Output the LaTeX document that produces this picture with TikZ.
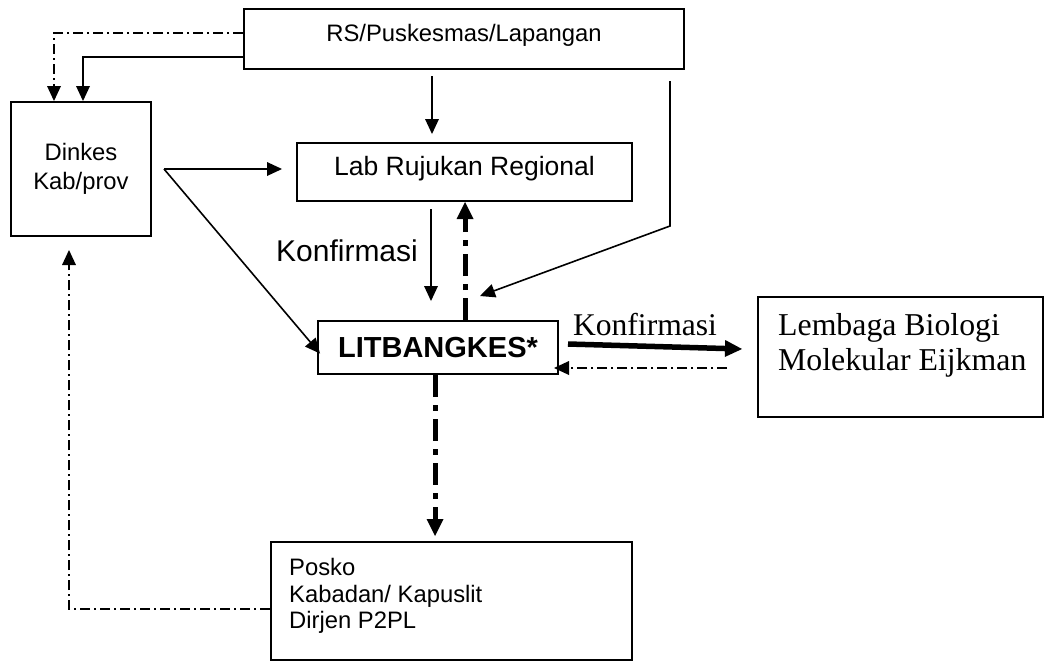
\documentclass[tikz,border=0pt]{standalone}
\usepackage{fontspec}
\setmainfont{Liberation Sans}
\newfontfamily\serifont{Liberation Serif}
\usetikzlibrary{arrows.meta,calc}
\begin{document}
\begin{tikzpicture}[x=1pt,y=-1pt,
  box/.style={draw, line width=2pt, rectangle, inner sep=0pt},
  ln/.style={line width=1.6pt},
  dd/.style={line width=1.4pt, dash pattern=on 10pt off 4pt on 2pt off 4pt},
  tdd/.style={line width=5pt, dash pattern=on 22pt off 8pt on 6pt off 8pt},
  tip/.style={-{Triangle[length=15pt,width=14pt,line width=0pt]}},
  bigtip/.style={-{Triangle[length=17pt,width=17pt,line width=0pt]}},
  sm/.style={font=\fontsize{23.8}{29}\selectfont},
  tx/.style={inner sep=0pt}
]
\useasboundingbox (0,0) rectangle (1047,662);

% boxes
\node[box, minimum width=440pt, minimum height=60pt] (rs) at (464,39) {};
\node[tx, sm] (rstext) at (464,35) {RS/Puskesmas/Lapangan};

\node[box, minimum width=140pt, minimum height=134pt, sm, align=center] (dinkes) at (81,169) {Dinkes\\Kab/prov};

\node[box, minimum width=335pt, minimum height=58pt] (lab) at (464.5,172) {};
\node[tx, font=\fontsize{26.5}{30}\selectfont] (labtext) at (464.5,169) {Lab Rujukan Regional};

\node[box, minimum width=240pt, minimum height=53pt, font=\fontsize{29}{32}\selectfont\bfseries] (lit) at (438,347.5) {LITBANGKES*};

\node[box, minimum width=285pt, minimum height=120pt] (lbm) at (900.5,357) {};
\node[tx, anchor=west, align=left, font=\serifont\fontsize{31.8}{35}\selectfont] (lbmtext) at (778,345.5) {Lembaga Biologi\\Molekular Eijkman};

\node[box, minimum width=361pt, minimum height=118pt] (posko) at (451.5,601) {};
\node[tx, anchor=west, align=left, font=\fontsize{23.8}{26.5}\selectfont] (poskotext) at (289,596) {Posko\\Kabadan/ Kapuslit\\Dirjen P2PL};

% labels
\node[tx, font=\fontsize{30}{34}\selectfont] (konf1) at (347,251) {Konfirmasi};
\node[tx, font=\serifont\fontsize{31.6}{35}\selectfont] (konf2) at (645,325) {Konfirmasi};

% connectors
\draw[dd,tip] ($(rs.west)+(0,-6)$) -| ($(dinkes.north)+(-27,0)$);
\draw[ln,tip] ($(rs.west)+(0,18)$) -| ($(dinkes.north)+(2,0)$);
\draw[ln,tip,shorten <=6pt,shorten >=8pt] ($(rs.south)+(-32,0)$) -- ($(lab.north)+(-32.5,0)$);
\coordinate (bend) at ($(rs.south)+(206,156)$);
\coordinate (rsend) at ($(lit.north)+(42,-24)$);
\draw[ln,tip] ($(rs.south)+(206,11)$) -- (bend) -- (rsend);
\coordinate (split) at ($(dinkes.east)+(12,0)$);
\draw[ln,tip] (split) -- ($(lab.west)+(-14,-3)$);
\draw[ln,tip] (split) -- ($(lit.west)+(3,6)$);
\draw[ln,tip,shorten <=7pt,shorten >=19pt] ($(lab.south)+(-33.5,0)$) -- ($(lit.north)+(-7,0)$);
\draw[tdd,bigtip] ($(lit.north)+(27,0)$) -- ($(lab.south)+(0.5,0)$);
\draw[tdd,bigtip,shorten >=5pt] ($(lit.south)+(-3,0)$) -- ($(posko.north)+(-16.5,0)$);
\draw[line width=5.5pt,bigtip] ($(lit.east)+(9,-3.5)$) -- ($(lbm.west)+(-15,-8)$);
\draw[dd,tip] ($(lbm.west)+(-30,11)$) -- ($(lit.east)+(-5,20.5)$);
\draw[dd,tip] ($(posko.west)+(0,8)$) -| ($(dinkes.south)+(-12,13)$);
\end{tikzpicture}
\end{document}
